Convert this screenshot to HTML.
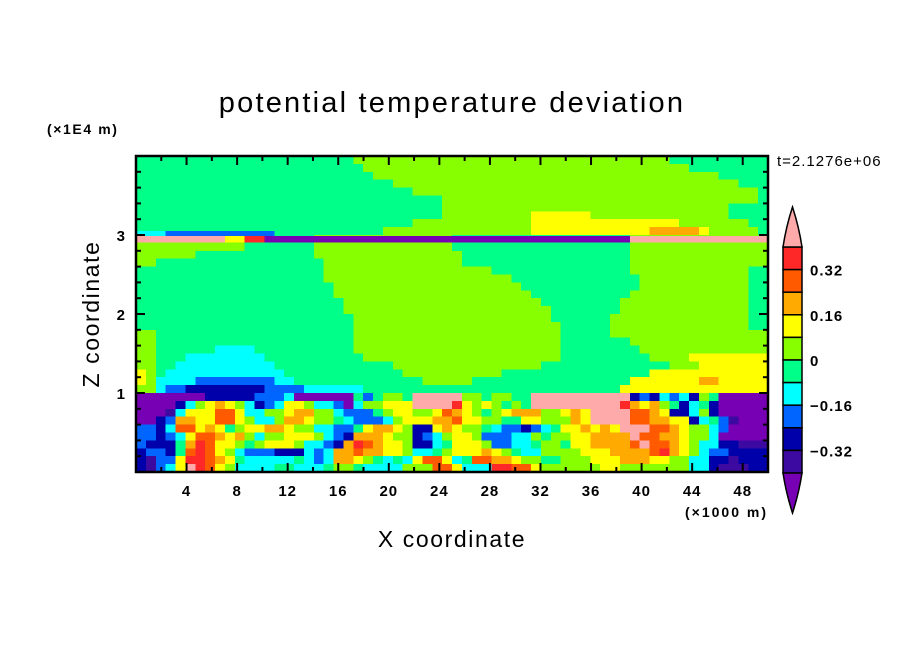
<!DOCTYPE html>
<html><head><meta charset="utf-8"><style>
html,body{margin:0;padding:0;background:#fff;}
svg{display:block;font-family:"Liberation Sans",sans-serif;}
</style></head><body>
<svg id="chart" width="904" height="654" viewBox="0 0 904 654" xmlns="http://www.w3.org/2000/svg">
<rect width="904" height="654" fill="#fff"/>
<text x="452" y="112" font-size="29" letter-spacing="2.2" text-anchor="middle" fill="#000">potential temperature deviation</text>
<text x="47" y="134" font-size="14" font-weight="bold" letter-spacing="1.6" fill="#000">(×1E4 m)</text>
<text x="777" y="166" font-size="15" letter-spacing="1" fill="#000">t=2.1276e+06</text>
<text x="685" y="517" font-size="14" font-weight="bold" letter-spacing="2" fill="#000">(×1000 m)</text>
<text x="452" y="547" font-size="23" letter-spacing="1.6" text-anchor="middle" fill="#000">X coordinate</text>
<text x="0" y="0" font-size="23" letter-spacing="1.6" text-anchor="middle" fill="#000" transform="translate(99,314) rotate(-90)">Z coordinate</text>
<g id="field" shape-rendering="crispEdges"></g>
<g id="axes" font-weight="bold"></g>
<g id="cbar" font-weight="bold"></g>
</svg>
<script>
const levelKeys = ['a','b','c','d','e','f','g','h','i','j','k','l'];
const levelColors = ['#7800b4','#3c0aa0','#0000aa','#0064ff','#00ffff','#00ff88','#88ff00','#ffff00','#ffaa00','#ff5a00','#ff2828','#ffaaaa'];
const cbarLabels = ['0.32','0.16','0','−0.16','−0.32'];
const cbarLabelValues = [0.32,0.16,0,-0.16,-0.32];
const xTickLabels = [4,8,12,16,20,24,28,32,36,40,44,48];
const zTickLabels = [1,2,3];
const fieldTop = ["f22g32f10","f23g33f8","f24g35f5","f26g35f3","f28g35f1","f31g32f1","f31g29f4","f31g9h6g14f4","f28g12h15g7f2","f25g15h12i5h1g5f1"];
const fieldMid = ["g11f7g14f18g14","g11f7g14f18g14","g6f12g15f17g14","g2f17g14f17g14","f19g17f14g12f2","f19g19f13g11f2","f20g19f12g11f2","f20g20f10g12f2","f21g20f8g13f2","f21g21f7g13f2","f22g20f6g14f2","f22g21f5g14f2","g2f20g21f5g16","g2f20g21f7g14","g2f6e4f10g21f8g13","g2f3e8f10g20f9g4h8","g2f2e10f12g15f13g3h7","h1g1f1e12f12g10f15h12","h1g1e4d8e2f13g5f16h7i2h5","g2e1d2c8d4e6f26h15"];
const fieldLow = [
"aaaaaaacccccdddeaaaaaa"+"fdfggflllllggfggfflll"+"lllllllcdcedecgfaaaaa",
"aaaaceghihgecdehhgeeda"+"egghhhllllkhghgfgflll"+"llllllkihigfcefcaaaaa",
"aaabehhhjjheegghiigged"+"ddfghhgghjihgfghiiigg"+"hihlllljjihccegcaaaaa",
"aacdiihhjjhgeegiihggfe"+"dddeghhhiijhhggffhhgg"+"gihlllljjiihhcefdbaaa",
"ddcejjhihfghhiihggeedd"+"fhiihgcchihggfeddcdef"+"hhihihllljjihggedaaaa",
"ddcdehjjihigegghhhgedc"+"iiihggcdeghhgdddeegfg"+"ghhiiiiljjiihggeaaaaa",
"dcccfikjhhgfghhhgeedci"+"kjihhgccefhhhgddeefgg"+"fhhiiiijljjihgeeccbbb",
"cddcfjkjhgedddcccedeii"+"jiihhgeefghhhihgfeegg"+"gghhhiiiijkihgeddcccc",
"cbddhkkjihfeeeeefedeii"+"hgfefehjjhefjjiihggff"+"ggghhhiiihhggeeccbccc",
"cbdehlkjhgeeeeffeeefgg"+"feeeegggjjheeekkjjhgg"+"gggghhgggggggeecbbbcc"];
const stripeA = "e3d11.50";
const stripeB = "l9h2k2a37l14";

const NS='http://www.w3.org/2000/svg';
const X0=136,X1=768,Y0=156,Y1=472,NC=64,NR=40;
const xMax=50, zMax=4;
function xs(km){return X0+km/xMax*(X1-X0);}
function zs(z){return Y1-z/zMax*(Y1-Y0);}
function colX(c){return X0+c*(X1-X0)/NC;}
function parseRow(s){
  const out=[];const re=/([a-l.])(\d*)/g;let m;
  while((m=re.exec(s))){const n=m[2]?parseInt(m[2]):1;for(let i=0;i<n;i++)out.push(m[1]);}
  while(out.length<NC)out.push(out[out.length-1]);
  return out.slice(0,NC);
}
function drawRow(g,s,y,h,name){
  const cells=parseRow(s);let c=0;
  while(c<NC){
    let k=c;while(k<NC&&cells[k]===cells[c])k++;
    if(cells[c]!=='.'){
      const r=document.createElementNS(NS,'rect');
      r.setAttribute('x',colX(c));r.setAttribute('y',y);
      r.setAttribute('width',colX(k)-colX(c)+0.3);r.setAttribute('height',h+0.3);
      r.setAttribute('fill',levelColors[levelKeys.indexOf(cells[c])]);
      
      
      g.appendChild(r);
    }
    c=k;
  }
}
const fg=document.getElementById('field');
const rows=fieldTop.concat(fieldMid,fieldLow);
const rh=(Y1-Y0)/NR;
rows.forEach((s,i)=>drawRow(fg,s,Y0+i*rh,rh,'heatmap-cell'));
drawRow(fg,stripeA,zs(3.05),zs(2.99)-zs(3.05),'tropopause-stripe-upper');
drawRow(fg,stripeB,zs(2.99),zs(2.91)-zs(2.99),'tropopause-stripe');

const ax=document.getElementById('axes');
function line(x1,y1,x2,y2,w,name){
  const l=document.createElementNS(NS,'line');
  l.setAttribute('x1',x1);l.setAttribute('y1',y1);l.setAttribute('x2',x2);l.setAttribute('y2',y2);
  l.setAttribute('stroke','#000');l.setAttribute('stroke-width',w);
  
  
  ax.appendChild(l);
}
function text(x,y,s,anchor,size,name,parent){
  const t=document.createElementNS(NS,'text');
  t.setAttribute('x',x);t.setAttribute('y',y);t.setAttribute('font-size',size);
  t.setAttribute('text-anchor',anchor);t.textContent=s;
  t.setAttribute('letter-spacing','1');
  
  
  (parent||ax).appendChild(t);
}
for(let km=2;km<xMax;km+=2){
  const major=km%4===0, L=major?9:5, x=xs(km);
  line(x,Y1,x,Y1-L,2,'x-tick');line(x,Y0,x,Y0+L,2,'x-tick-top');
}
for(let k=1;k<20;k++){
  const z=k*0.2, major=(k%5===0), L=major?9:5, y=zs(z);
  line(X0,y,X0+L,y,2,'z-tick');line(X1,y,X1-L,y,2,'z-tick-right');
}
const fr=document.createElementNS(NS,'rect');
fr.setAttribute('x',X0);fr.setAttribute('y',Y0);fr.setAttribute('width',X1-X0);fr.setAttribute('height',Y1-Y0);
fr.setAttribute('fill','none');fr.setAttribute('stroke','#000');fr.setAttribute('stroke-width',2.5);


ax.appendChild(fr);
xTickLabels.forEach(v=>text(xs(v),496,String(v),'middle',15,'x-tick-label'));
zTickLabels.forEach(v=>text(126,zs(v)+6,String(v),'end',15,'z-tick-label'));

const cb=document.getElementById('cbar');
const CX0=783,CX1=802,CY0=247,CY1=473,NB=10,bh=(CY1-CY0)/NB;
const boxOrder=['k','j','i','h','g','f','e','d','c','b'];
boxOrder.forEach((k,i)=>{
  const r=document.createElementNS(NS,'rect');
  r.setAttribute('x',CX0);r.setAttribute('y',CY0+i*bh);r.setAttribute('width',CX1-CX0);r.setAttribute('height',bh);
  r.setAttribute('fill',levelColors[levelKeys.indexOf(k)]);r.setAttribute('stroke','#000');r.setAttribute('stroke-width',1.5);
  
  
  cb.appendChild(r);
});
const cm=(CX0+CX1)/2;
const tTop=document.createElementNS(NS,'path');
tTop.setAttribute('d',`M${CX0},${CY0} Q${CX0+3},${CY0-20} ${cm},${CY0-40} Q${CX1-3},${CY0-20} ${CX1},${CY0} Z`);
tTop.setAttribute('fill',levelColors[11]);tTop.setAttribute('stroke','#000');tTop.setAttribute('stroke-width',1.5);


cb.appendChild(tTop);
const tBot=document.createElementNS(NS,'path');
tBot.setAttribute('d',`M${CX0},${CY1} Q${CX0+3},${CY1+20} ${cm},${CY1+40} Q${CX1-3},${CY1+20} ${CX1},${CY1} Z`);
tBot.setAttribute('fill',levelColors[0]);tBot.setAttribute('stroke','#000');tBot.setAttribute('stroke-width',1.5);


cb.appendChild(tBot);
cbarLabelValues.forEach((v,i)=>{
  const y=CY0+(0.40-v)/0.08*bh;
  text(810,y+6,cbarLabels[i],'start',15,'colorbar-label',cb);
});
</script>
</body></html>
